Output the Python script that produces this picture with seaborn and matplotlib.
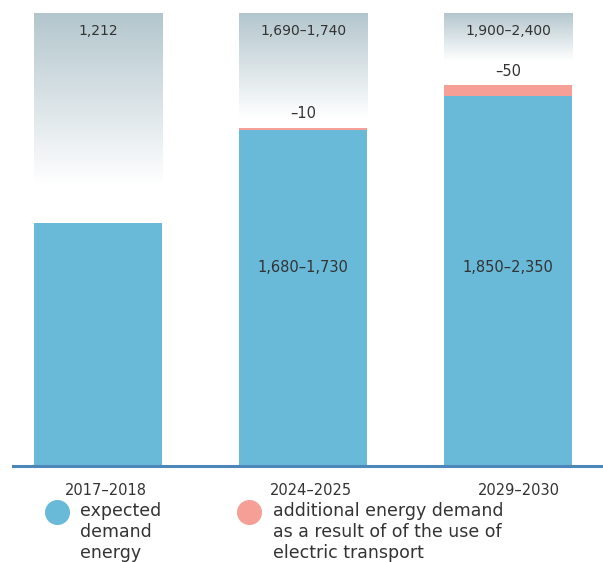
import numpy as np
import pandas as pd
import matplotlib
matplotlib.use("Agg")
import matplotlib.pyplot as plt
import matplotlib.transforms as mtransforms
from matplotlib.colors import LinearSegmentedColormap
import seaborn as sns

# ---------------------------------------------------------------- data
periods = ["2017–2018", "2024–2025", "2029–2030"]
expected = [1212, 1680, 1850]            # blue bars
extra = [0, 10, 50]                      # pink (electric transport)
expected_lbl = ["", "1,680–1,730", "1,850–2,350"]
extra_lbl = ["", "–10", "–50"]
total_lbl = ["1,212", "1,690–1,740", "1,900–2,400"]
haze_bottom = [1405, 1740, 2020]         # where the grey band fades out
haze_top = 2262

BLUE = "#69b9d9"
PINK = "#f59f96"
LINE = "#4b87b9"
TXT = "#333333"

sns.set_theme(style="white")
plt.rcParams["font.family"] = ["DejaVu Sans"]

df = pd.DataFrame({"period": periods, "expected": expected, "extra": extra})
ev = df[df["extra"] > 0]

fig = plt.figure(figsize=(6.03, 5.62), dpi=100)
ax = fig.add_axes([13 / 603, 1 - 466 / 562, 1 - 13 / 603, 453 / 562])

W = 0.625
haze = LinearSegmentedColormap.from_list("haze", ["#ffffff", "#b3c6cd"])
grad = np.linspace(0, 1, 256).reshape(-1, 1)
for i, hb in enumerate(haze_bottom):
    ax.imshow(grad, cmap=haze, origin="lower", aspect="auto", zorder=0,
              extent=(i - W / 2, i + W / 2, hb, haze_top))

sns.barplot(data=df, x="period", y="expected", order=periods, color=BLUE,
            width=W, saturation=1, errorbar=None, ax=ax, zorder=2, linewidth=0)
sns.barplot(data=ev, x="period", y="extra", order=periods,
            bottom=ev["expected"].to_numpy(), color=PINK, width=W,
            saturation=1, errorbar=None, ax=ax, zorder=2, linewidth=0)

for i in range(3):
    ax.text(i, haze_top - 90, total_lbl[i], ha="center", va="center",
            fontsize=10, color=TXT)
    if extra_lbl[i]:
        ax.text(i, expected[i] + extra[i] + 70, extra_lbl[i], ha="center",
                va="center", fontsize=10.5, color=TXT)
    if expected_lbl[i]:
        ax.text(i, 990, expected_lbl[i], ha="center", va="center",
                fontsize=10.5, color=TXT)

ax.set_xlim(-0.415, 2.463)
ax.set_ylim(0, haze_top)
ax.set_xlabel("")
ax.set_ylabel("")
ax.set_yticks([])
ax.tick_params(axis="x", length=0, pad=12, labelsize=10.5, labelcolor=TXT)
shift = [8, 8, 11]
for lab, dx in zip(ax.get_xticklabels(), shift):
    lab.set_transform(lab.get_transform() +
                      mtransforms.ScaledTranslation(dx / 100, 0, fig.dpi_scale_trans))
for s in ["top", "right", "left"]:
    ax.spines[s].set_visible(False)
ax.spines["bottom"].set_color(LINE)
ax.spines["bottom"].set_linewidth(2.2)
ax.set_facecolor("white")

# legend
def fx(px):
    return px / 603


def fy(py):
    return 1 - py / 562


fig.lines.append(plt.Line2D([fx(57)], [fy(512)], marker="o", markersize=17,
                            color=BLUE, transform=fig.transFigure, linestyle=""))
fig.lines.append(plt.Line2D([fx(249)], [fy(512)], marker="o", markersize=17,
                            color=PINK, transform=fig.transFigure, linestyle=""))
fig.text(fx(80), fy(502), "expected\ndemand\nenergy", ha="left", va="top",
         fontsize=12.5, color=TXT, linespacing=1.2)
fig.text(fx(273), fy(502), "additional energy demand\nas a result of of the use of\nelectric transport",
         ha="left", va="top", fontsize=12.5, color=TXT, linespacing=1.2)

fig.savefig("out.png", dpi=100)
